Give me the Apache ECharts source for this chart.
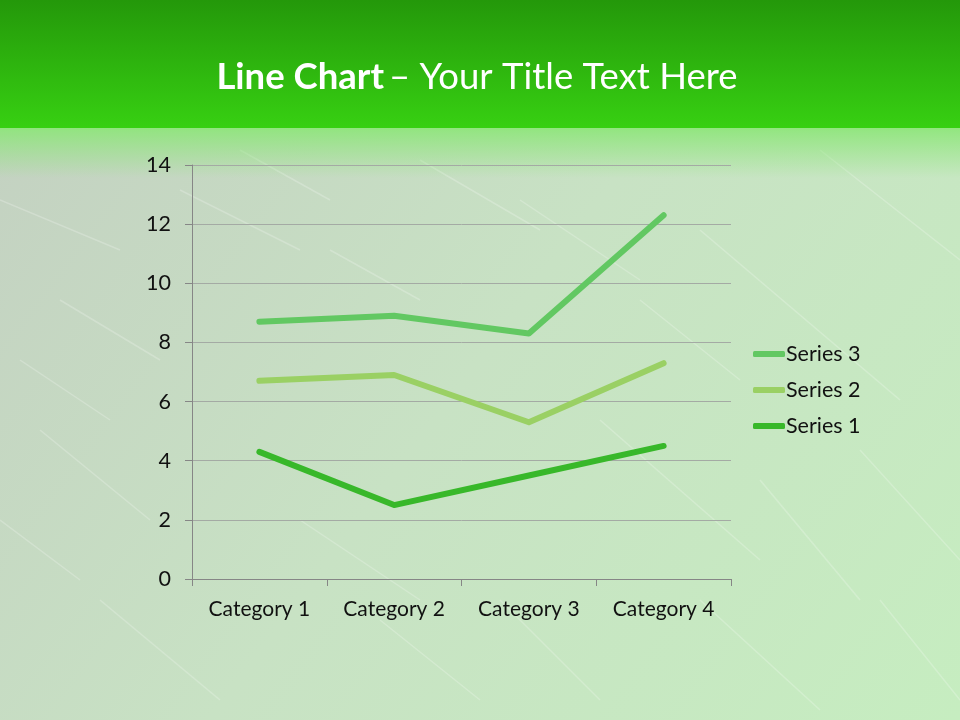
<!DOCTYPE html>
<html><head><meta charset="utf-8">
<script src="https://cdn.jsdelivr.net/npm/echarts@6/dist/echarts.min.js"></script>
<style>html,body{margin:0;padding:0;}#c{width:960px;height:720px;}</style>
</head><body><div id="c"></div>
<script>
var categories = ['Category 1','Category 2','Category 3','Category 4'];
var series1 = [4.3, 2.5, 3.5, 4.5];
var series2 = [2.4, 4.4, 1.8, 2.8];
var series3 = [2, 2, 3, 5];
var yTicks = {min: 0, max: 14, interval: 2};

var chart = echarts.init(document.getElementById('c'));
var font = 'Lato';
var grad = function(x,y,x2,y2,stops){return new echarts.graphic.LinearGradient(x,y,x2,y2,stops);};
var streaks = [];
var sl = [[0,200,120,250],[180,190,300,250],[330,250,420,300],[60,300,160,360],[520,200,640,280],[700,230,900,400],[820,150,960,260],[40,430,150,520],[600,420,760,560],[860,450,960,560],[300,520,420,600],[100,600,220,700],[500,600,600,700],[700,600,820,710],[880,600,960,700],[240,150,330,200],[420,160,540,230],[0,520,80,580],[20,360,110,420],[640,300,740,380],[760,480,860,600],[380,620,480,700]];
sl.forEach(function(s){streaks.push({type:'line',silent:true,z:-9,shape:{x1:s[0],y1:s[1],x2:s[2],y2:s[3]},style:{stroke:'rgba(255,255,255,0.22)',lineWidth:1.5}});});
chart.setOption({
  animation: false,
  graphic: [
    {type:'rect', z:-10, shape:{x:0,y:0,width:960,height:720}, style:{fill: grad(0,0,1,1,[{offset:0,color:'#c3cfc1'},{offset:0.5,color:'#c8e2c4'},{offset:1,color:'#c6edc0'}])}},
    {type:'rect', z:-8, shape:{x:0,y:128,width:960,height:50}, style:{fill: grad(0,0,0,1,[{offset:0,color:'rgba(140,230,120,0.9)'},{offset:1,color:'rgba(140,230,120,0)'}])}},
    {type:'rect', z:-7, shape:{x:0,y:0,width:960,height:128}, style:{fill: grad(0,0,0,1,[{offset:0,color:'#24980a'},{offset:1,color:'#37d012'}])}}
  ].concat(streaks),
  title: {
    text: '{b|Line Chart} {n|– Your Title Text Here}',
    left: 472, top: 54, textAlign: 'center',
    textStyle: {rich: {
      b: {fontFamily: font, fontWeight: 'bold', fontSize: 36.5, color: '#ffffff'},
      n: {fontFamily: font, fontWeight: 'normal', fontSize: 36.5, color: '#ffffff'}
    }}
  },
  legend: {
    data: ['Series 3','Series 2','Series 1'],
    orient: 'vertical', left: 748, top: 338, itemGap: 14,
    itemWidth: 32, itemHeight: 6, icon: 'roundRect',
    textStyle: {fontFamily: font, fontSize: 21.5, color: '#111', padding:[0,0,0,-4]}
  },
  grid: {left: 192, right: 229, top: 165, bottom: 141, containLabel: false},
  xAxis: {
    type: 'category', data: categories, boundaryGap: true,
    axisLine: {lineStyle: {color: '#868686', width: 1}},
    axisTick: {show: true, interval: 0, length: 7, lineStyle: {color: '#868686'}},
    axisLabel: {interval: 0, hideOverlap: false, fontFamily: font, fontSize: 21, color: '#111', margin: 20}
  },
  yAxis: {
    type: 'value', min: yTicks.min, max: yTicks.max, interval: yTicks.interval,
    axisLine: {show: true, lineStyle: {color: '#868686', width: 1}},
    axisTick: {show: true, length: 7, lineStyle: {color: '#868686'}},
    splitLine: {lineStyle: {color: '#a4aaa4', width: 1}},
    axisLabel: {fontFamily: font, fontSize: 21.5, color: '#111', margin: 21}
  },
  series: [
    {name:'Series 1', type:'line', stack:'total', data: series1, symbol:'none', lineStyle:{width:6, color:'#38b82a', cap:'round', join:'round'}, itemStyle:{color:'#38b82a'}},
    {name:'Series 2', type:'line', stack:'total', data: series2, symbol:'none', lineStyle:{width:6, color:'#9ad064', cap:'round', join:'round'}, itemStyle:{color:'#9ad064'}},
    {name:'Series 3', type:'line', stack:'total', data: series3, symbol:'none', lineStyle:{width:6, color:'#62c862', cap:'round', join:'round'}, itemStyle:{color:'#62c862'}}
  ]
});
</script></body></html>
